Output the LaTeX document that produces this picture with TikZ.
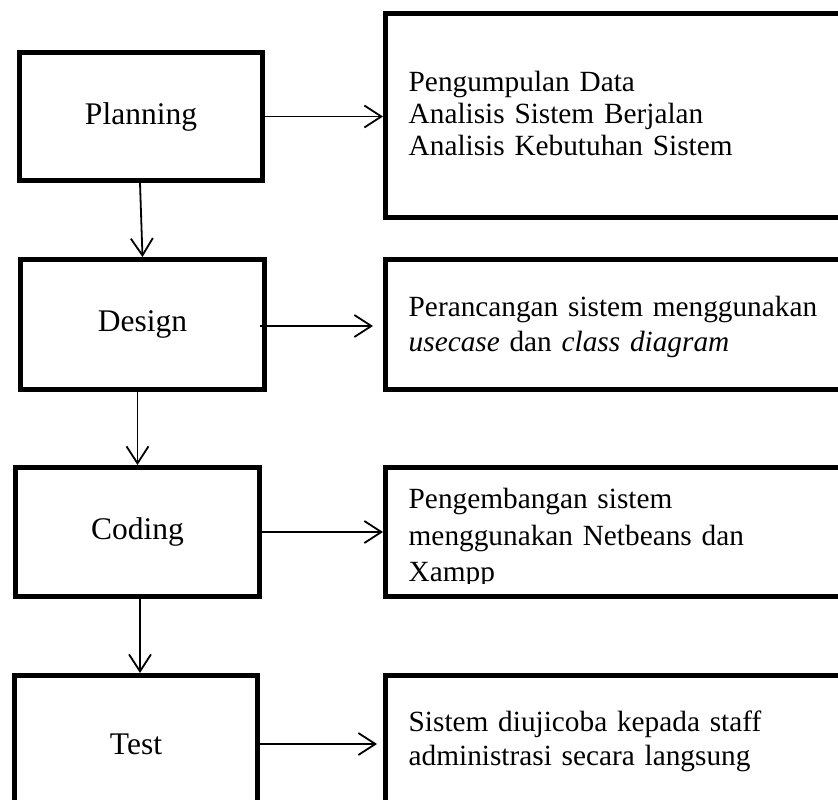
\documentclass[tikz,border=0pt]{standalone}
\usepackage{fontspec}
\setmainfont{Liberation Serif}
\usetikzlibrary{arrows.meta,calc}
\begin{document}
\begin{tikzpicture}[x=1pt,y=-1pt,
  stage/.style={draw,line width=5pt,inner sep=0pt,font=\fontsize{31.5}{36}\selectfont},
  outbox/.style={draw,line width=5pt,inner sep=0pt},
  desc/.style={anchor=base west,inner sep=0pt,text width=440pt,align=left},
  arr/.style={line width=1.8pt,-{Straight Barb[length=17pt,width=22pt]}}]
\useasboundingbox (0,0) rectangle (838,800);
\clip (0,0) rectangle (838,800);

% left stage boxes
\node[stage,minimum width=243pt,minimum height=128pt] (plan) at (141,116.5) {Planning};
\node[stage,minimum width=244pt,minimum height=130pt] (design) at (142.5,324.5) {Design};
\node[stage,minimum width=244pt,minimum height=129pt] (coding) at (137.5,532) {Coding};
\node[stage,minimum width=243pt,minimum height=137pt] (test) at (136,744) {Test};

% right description boxes
\node[outbox,minimum width=520pt,minimum height=204pt] (r1) at (645.5,115.5) {};
\node[outbox,minimum width=520pt,minimum height=130pt] (r2) at (645.5,324.5) {};
\node[outbox,minimum width=520pt,minimum height=129pt] (r3) at (645.5,532) {};
\node[outbox,minimum width=520pt,minimum height=136.5pt] (r4) at (645.5,743.75) {};

% descriptions
\node[desc,font=\fontsize{29.3}{32}\selectfont] (t1) at (408.5,91.7)
  {Pengumpulan Data\\Analisis Sistem Berjalan\\Analisis Kebutuhan Sistem};
\node[desc,font=\fontsize{29.3}{35.7}\selectfont] (t2) at (408.5,316)
  {Perancangan sistem menggunakan\\\textit{usecase} dan \textit{class diagram}};
\begin{scope}
  \clip (388,470) rectangle (840,583.5);
  \node[desc,font=\fontsize{29.3}{36.7}\selectfont] (t3) at (408.5,508.3)
    {Pengembangan sistem\\menggunakan Netbeans dan\\Xampp};
\end{scope}
\node[desc,font=\fontsize{29.3}{33.3}\selectfont] (t4) at (408.5,731.7)
  {Sistem diujicoba kepada staff\\administrasi secara langsung};

% horizontal arrows
\draw[arr] (plan.east) -- (plan.east -| r1.west);
\draw[arr,shorten >=3pt] ([shift={(-7,1.5)}]design.east) -- ([shift={(-7,1.5)}]design.east -| r2.west);
\draw[arr] (coding.east) -- (coding.east -| r3.west);
\draw[arr,shorten >=6pt] (test.east) -- (test.east -| r4.west);

% vertical arrows
\draw[arr] ([xshift=-1pt]plan.south) -- (design.north);
\draw[arr] (design.south -| coding.north) -- (coding.north);
\coordinate (cs) at ([xshift=2.5pt]coding.south);
\draw[arr] (cs) -- (cs |- test.north);
\end{tikzpicture}
\end{document}
